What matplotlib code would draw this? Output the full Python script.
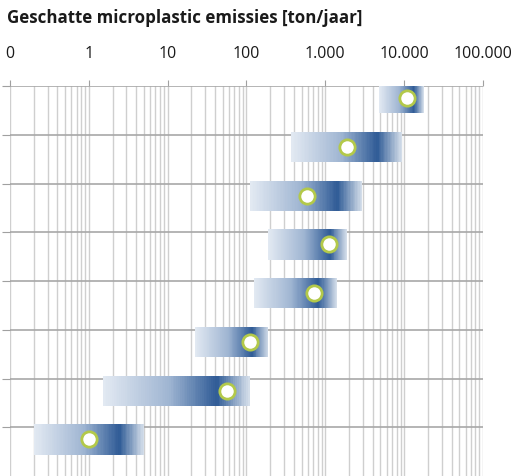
import numpy as np
import matplotlib.pyplot as plt
from matplotlib.colors import LinearSegmentedColormap

# geschatte emissies per bron [ton/jaar]: ondergrens, bovengrens, beste schatting
low = [4800, 370, 112, 190, 123, 22, 1.5, 0.2]
high = [17800, 9400, 2950, 1900, 1410, 190, 110, 5.0]
best = [11000, 1860, 590, 1100, 725, 110, 56, 1.0]

tick_vals = [0.1, 1, 10, 100, 1000, 10000, 100000]
tick_labels = ['0', '1', '10', '100', '1.000', '10.000', '100.000']

plt.rcParams['font.family'] = ['Open Sans', 'DejaVu Sans']

cmap = LinearSegmentedColormap.from_list(
    'band', [(0.0, '#e2e9f2'), (0.45, '#9fb5d2'), (0.78, '#2f5b96'), (1.0, '#d3dde9')])

fig = plt.figure(figsize=(5.19, 4.77), dpi=100)
ax = fig.add_axes([10 / 519, 0, 473 / 519, 1 - 87 / 477])
ax.set_xscale('log')
ax.set_xlim(0.1, 100000)
ax.set_ylim(8.0, 0)

n_seg = 80
for i in range(len(low)):
    edges = np.linspace(np.log10(low[i]), np.log10(high[i]), n_seg + 1)
    left = 10 ** edges[:-1]
    width = 10 ** edges[1:] - left
    colors = cmap(np.linspace(0, 1, n_seg))
    ax.barh(np.full(n_seg, i + 0.25), width, left=left, height=0.62,
            color=colors, linewidth=0, zorder=3)

ax.plot(best, np.arange(len(best)) + 0.25, 'o', ms=11, mfc='white',
        mec='#b3c94a', mew=2, zorder=4)

ax.xaxis.tick_top()
ax.set_xticks(tick_vals)
ax.set_xticklabels(tick_labels, fontsize=11.5, color='#1a1a1a')
ax.set_xticks([m * d for d in tick_vals[:-1] for m in range(2, 10)], minor=True)
ax.tick_params(axis='x', which='major', length=4, color='#a0a0a0', pad=14)
ax.tick_params(axis='x', which='minor', length=0, labeltop=False)
ax.set_yticks(range(8))
ax.set_yticklabels([])
ax.tick_params(axis='y', length=6, color='#a0a0a0')

ax.grid(axis='x', which='both', color='#cfcfcf', lw=1.0, zorder=0)
ax.grid(axis='y', which='major', color='#a8a8a8', lw=1.2, zorder=0)
for s in ax.spines.values():
    s.set_visible(False)

fig.text(7 / 519, 1 - 18 / 477, 'Geschatte microplastic emissies [ton/jaar]',
         fontsize=12.2, fontweight='bold', va='center', ha='left', color='#1a1a1a')

fig.savefig('out.png', dpi=100)
